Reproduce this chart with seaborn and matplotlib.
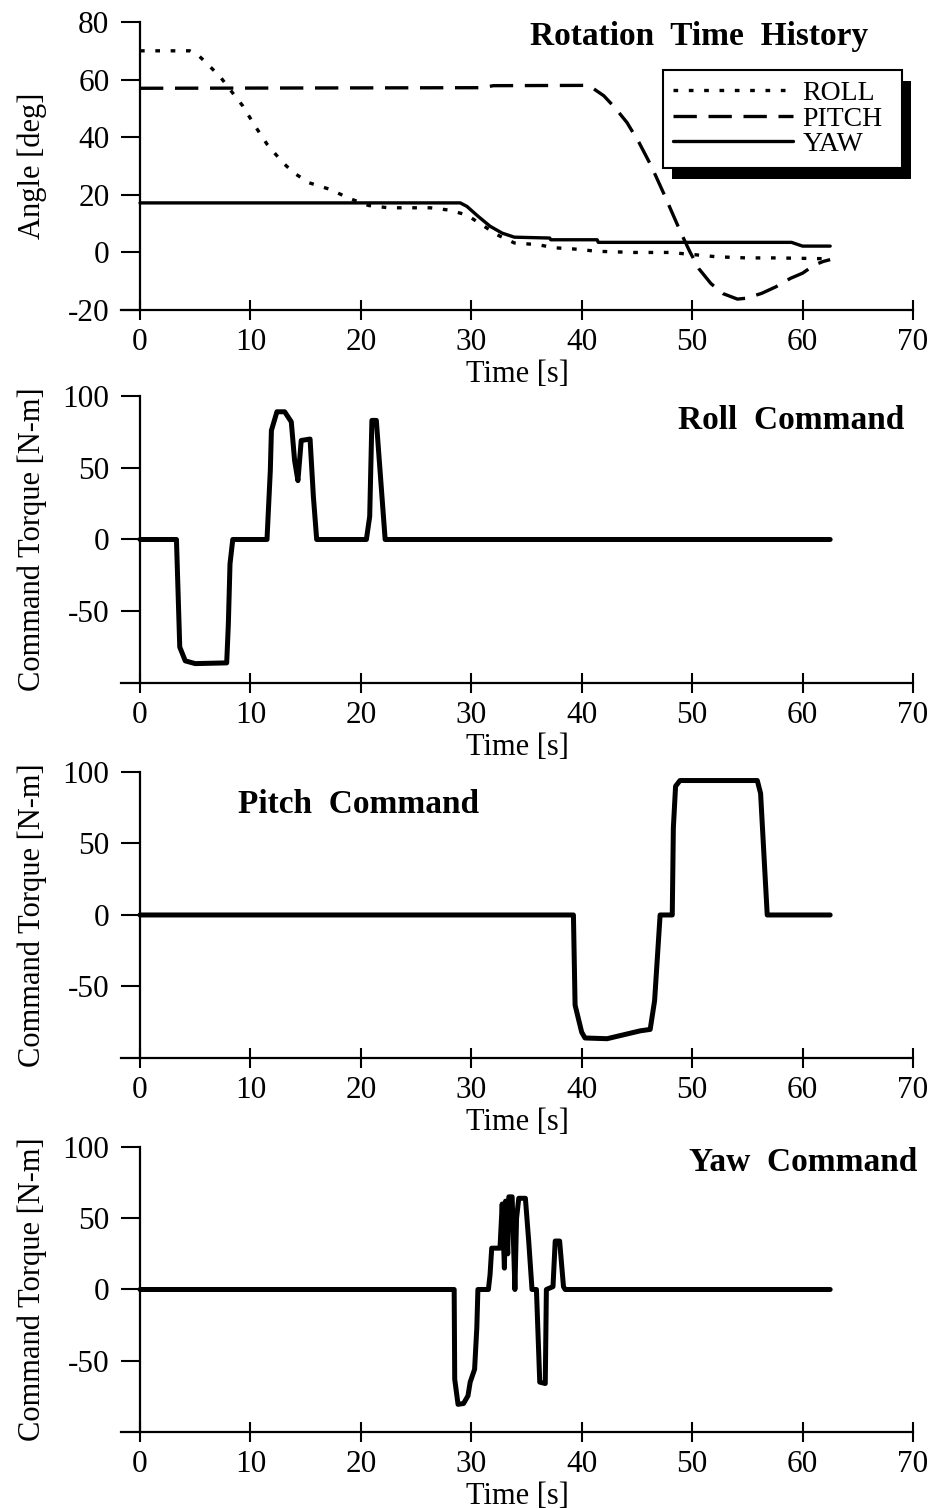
import numpy as np
import pandas as pd
import matplotlib
matplotlib.use("Agg")
import matplotlib.pyplot as plt
from matplotlib.patches import Rectangle
from matplotlib.transforms import IdentityTransform
import seaborn as sns

# angle histories [deg]
roll_t = [0, 2, 4.5, 5.3, 6.4, 7.3, 8, 9.3, 10.4, 11.5, 12.3, 13.1, 13.9, 15.3, 17.2, 19, 20.7,
          22.5, 26.3, 28, 29.6, 31.2, 32.3, 33.9, 36, 37.6, 39.3, 41.4, 44.7, 47.9, 50, 52.2,
          54.9, 57.6, 60.8, 62.5]
roll_a = [70, 70, 70, 68.4, 64.3, 60.8, 57.3, 50.9, 44, 37.6, 34, 30.6, 27.7, 24.2, 21.9, 18.7, 16.3,
          15.5, 15.5, 14.7, 13, 9, 6.2, 3.3, 2.7, 1.6, 1.2, 0.4, 0, 0, -0.7, -1.5,
          -1.9, -1.9, -2.1, -2.2]
pitch_t = [0, 31, 32, 40.3, 40.9, 42, 43, 44.1, 45.2, 46.3, 47.4, 48.2, 49, 49.8, 50.6, 51.7,
           52.8, 54.1, 54.9, 56.3, 57.6, 58.9, 60, 61.1, 61.9, 62.5]
pitch_a = [57, 57.2, 57.9, 58, 57.3, 54.4, 50.3, 45.1, 38.1, 30, 20.7, 13.7, 6.7, 0.2, -5.6, -10.8,
           -14.3, -16.2, -15.9, -14.2, -11.9, -9, -7.2, -4.3, -3.1, -2.5]
yaw_t = [0, 29, 29.6, 30.6, 31.7, 32.8, 33.9, 37.1, 37.2, 41.4, 41.5, 59, 60, 62.5]
yaw_a = [17.2, 17.2, 16, 12.6, 9.1, 6.7, 5.3, 5, 4.4, 4.4, 3.5, 3.5, 2.2, 2.2]

# command torques [N-m]
rc_t = [0, 3.3, 3.6, 4.1, 5, 7.85, 8.0, 8.15, 8.4, 11.5, 11.8, 11.9, 12.4, 13.1, 13.7, 14.0,
        14.3, 14.6, 15.4, 15.7, 16.0, 20.5, 20.8, 21.0, 21.4, 22.2, 62.5]
rc_v = [0, 0, -75, -84.6, -86.5, -86, -59, -17, 0, 0, 48, 76, 89, 89, 82, 55,
        41, 69, 70, 30, 0, 0, 16, 83, 83, 0, 0]
pc_t = [0, 39.25, 39.4, 40.0, 40.3, 42.3, 45.3, 46.2, 46.6, 47.1, 48.2, 48.3, 48.5, 48.9,
        55.9, 56.2, 56.8, 62.5]
pc_v = [0, 0, -63, -82, -86, -86.5, -81, -80, -60, 0, 0, 61, 90, 94,
        94, 85, 0, 0]
yc_t = [0, 28.45, 28.5, 28.8, 29.3, 29.7, 29.9, 30.3, 30.5, 30.6, 31.55, 31.7, 31.85, 32.6,
        32.8, 33.0, 33.1, 33.3, 33.4, 33.7, 33.95, 34.1, 34.3, 34.9, 35.2, 35.5, 35.9,
        36.2, 36.7, 36.8, 37.4, 37.6, 38.0, 38.35, 38.5, 62.5]
yc_v = [0, 0, -63, -80.6, -80, -74.6, -65, -56, -27, 0, 0, 10.4, 29, 29,
        60, 15, 62, 25, 65, 65, 0, 50, 64, 64, 34, 0, 0,
        -65, -66, 0, 2, 34, 34, 2, 0, 0]

x_ticks = [0, 10, 20, 30, 40, 50, 60, 70]
angle_ticks = [-20, 0, 20, 40, 60, 80]
torque_ticks = [-50, 0, 50, 100]

sns.set_style("ticks")
plt.rcParams['font.family'] = ['Liberation Serif', 'DejaVu Serif']
plt.rcParams['axes.unicode_minus'] = False
plt.rcParams['text.color'] = 'k'
plt.rcParams['axes.labelcolor'] = 'k'

fig = plt.figure(figsize=(9.34, 15.08), dpi=100)
left, width = 0.1298, 0.8477
boxes = [(0.7944, 0.1910), (0.5471, 0.1903), (0.2984, 0.1897), (0.0504, 0.1890)]
axes = [fig.add_axes([left, b, width, h]) for b, h in boxes]


def style_axis(ax, ylim, yticks, ylabel):
    ax.set_xlim(-1.7, 70)
    ax.set_ylim(*ylim)
    ax.spines['left'].set_position(('data', 0))
    ax.spines['right'].set_visible(False)
    ax.spines['top'].set_visible(False)
    for s in ('left', 'bottom'):
        ax.spines[s].set_linewidth(1.6)
        ax.spines[s].set_color('k')
    ax.set_xticks(x_ticks)
    ax.set_yticks(yticks)
    ax.tick_params(axis='x', direction='inout', length=15, width=1.5, labelsize=22.5, pad=5.5, colors='k')
    ax.tick_params(axis='y', direction='out', length=14, width=1.5, labelsize=22.5, pad=8, colors='k')
    ax.set_xlabel("Time [s]", fontsize=22, labelpad=2)
    ax.set_ylabel(ylabel, fontsize=22)
    ax.yaxis.set_label_coords(-0.094, 0.5)


# Rotation time history
ax = axes[0]
sns.lineplot(x=roll_t, y=roll_a, ax=ax, color='k', lw=2.4, linestyle=(0, (1.4, 3.2)),
             estimator=None, sort=False, label='ROLL')
sns.lineplot(x=pitch_t, y=pitch_a, ax=ax, color='k', lw=2.4, linestyle=(0, (7, 3.5)),
             estimator=None, sort=False, label='PITCH')
sns.lineplot(x=yaw_t, y=yaw_a, ax=ax, color='k', lw=2.4,
             estimator=None, sort=False, label='YAW')
style_axis(ax, (-20, 80), angle_ticks, "Angle [deg]")
ax.text(0.730, 0.948, "Rotation  Time  History", transform=ax.transAxes, ha='center',
        va='center', fontsize=24, fontweight='bold')
leg = ax.legend(loc='upper left', bbox_to_anchor=(0.684, 0.4, 0.302, 0.433), mode='expand',
                borderaxespad=0, fontsize=20, handlelength=4.3, handletextpad=0.35,
                labelspacing=0.0, borderpad=0.38, fancybox=False, edgecolor='k', framealpha=1)
leg.get_frame().set_linewidth(1.5)
leg.set_zorder(6)

# Command torques
cmds = [(rc_t, rc_v, "Roll  Command", 0.846, 0.913),
        (pc_t, pc_v, "Pitch  Command", 0.300, 0.885),
        (yc_t, yc_v, "Yaw  Command", 0.861, 0.944)]
for ax, (t, v, title, tx, ty) in zip(axes[1:], cmds):
    sns.lineplot(x=t, y=v, ax=ax, color='k', lw=3.6, estimator=None, sort=False)
    style_axis(ax, (-100, 100), torque_ticks, "Command Torque [N-m]")
    ax.text(tx, ty, title, transform=ax.transAxes, ha='center', va='center',
            fontsize=24, fontweight='bold')

# black drop shadow behind the legend
fig.canvas.draw()
bb = leg.get_window_extent()
shadow = Rectangle((bb.x0 + 9, bb.y0 - 11), bb.width, bb.height, transform=IdentityTransform(),
                   facecolor='k', edgecolor='none', zorder=5.5, clip_on=False)
axes[0].add_artist(shadow)

fig.savefig("out.png", dpi=100)
